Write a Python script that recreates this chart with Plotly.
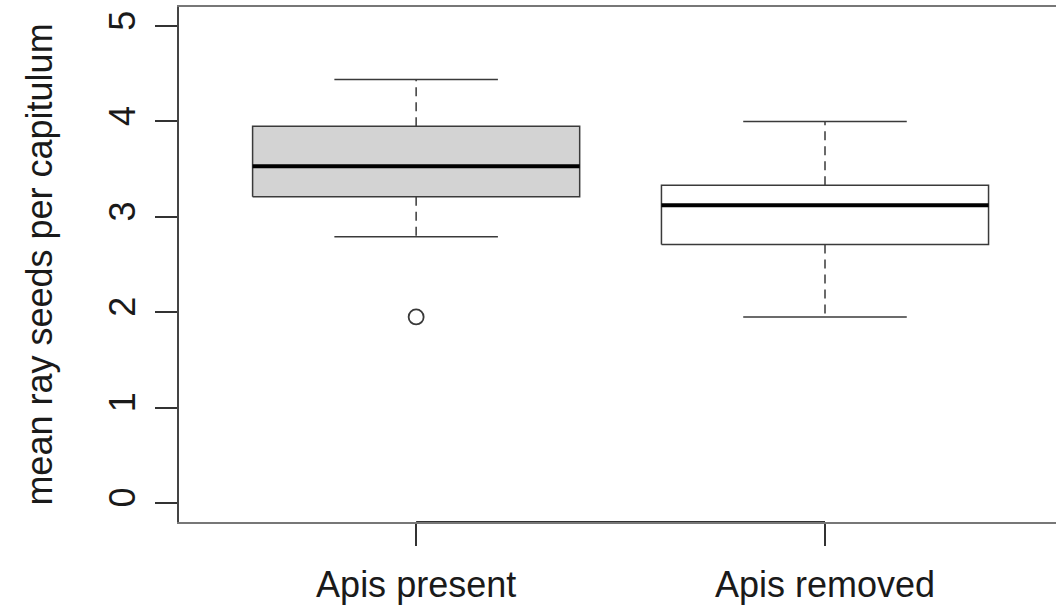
import plotly.graph_objects as go

# ---- data ----
categories = ["Apis present", "Apis removed"]
positions = [1, 2]
upper_whisker = [4.44, 4.00]
q3_values = [3.95, 3.33]
medians = [3.53, 3.12]
q1_values = [3.21, 2.71]
lower_whisker = [2.79, 1.95]
outlier_groups = [1]
outlier_values = [1.95]
box_fills = ["#d3d3d3", "#ffffff"]
y_ticks = [0, 1, 2, 3, 4, 5]
y_title = "mean ray seeds per capitulum"

BOX_HW = 0.4
CAP_HW = 0.2
EDGE = "#3a3a3a"
FONT = "Liberation Sans, Arial, sans-serif"

fig = go.Figure()

for x, up, q3, med, q1, lo, fc in zip(positions, upper_whisker, q3_values,
                                       medians, q1_values, lower_whisker, box_fills):
    # box
    fig.add_trace(go.Scatter(
        x=[x - BOX_HW, x + BOX_HW, x + BOX_HW, x - BOX_HW, x - BOX_HW],
        y=[q1, q1, q3, q3, q1], mode="lines", fill="toself", fillcolor=fc,
        line=dict(color=EDGE, width=1.5), hoverinfo="skip", showlegend=False))
    # whiskers (dashed)
    for a, b in ((q3, up), (q1, lo)):
        fig.add_trace(go.Scatter(
            x=[x, x], y=[a, b], mode="lines",
            line=dict(color=EDGE, width=1.5, dash="9px,6px"),
            hoverinfo="skip", showlegend=False))
    # caps
    for v in (up, lo):
        fig.add_trace(go.Scatter(
            x=[x - CAP_HW, x + CAP_HW], y=[v, v], mode="lines",
            line=dict(color=EDGE, width=1.5), hoverinfo="skip", showlegend=False))
    # median
    fig.add_trace(go.Scatter(
        x=[x - BOX_HW, x + BOX_HW], y=[med, med], mode="lines",
        line=dict(color="#000000", width=4), hoverinfo="skip", showlegend=False))

# outliers
fig.add_trace(go.Scatter(
    x=outlier_groups, y=outlier_values, mode="markers",
    marker=dict(symbol="circle-open", size=15, color=EDGE, line=dict(width=1.8)),
    hoverinfo="skip", showlegend=False))

y_min, y_max = -0.2, 5.2
# axis line between first and last tick (R's axis() line)
fig.add_trace(go.Scatter(
    x=[positions[0], positions[-1]], y=[y_min, y_min], mode="lines",
    line=dict(color="#333333", width=2), hoverinfo="skip", showlegend=False,
    cliponaxis=False))

fig.update_layout(
    width=1056, height=615,
    margin=dict(l=179, r=0, t=7, b=93),
    paper_bgcolor="white", plot_bgcolor="white",
    font=dict(family=FONT, size=36, color="#1a1a1a"),
    xaxis=dict(
        range=[0.42, 2.565], tickvals=positions, ticktext=categories,
        showgrid=False, zeroline=False,
        showline=True, mirror=True, linecolor="#777777", linewidth=1.5,
        ticks="outside", ticklen=22, tickwidth=1.5, tickcolor="#333333",
        ticklabelstandoff=8,
        tickfont=dict(family=FONT, size=36, color="#1a1a1a"),
    ),
    yaxis=dict(
        range=[y_min, y_max], tickvals=y_ticks,
        ticktext=[str(t) for t in y_ticks],
        showgrid=False, zeroline=False,
        showline=True, mirror=False, linecolor="#444444", linewidth=1.5,
        ticks="outside", ticklen=22, tickwidth=1.5, tickcolor="#333333",
        tickangle=-90, ticklabelstandoff=6,
        tickfont=dict(family=FONT, size=36, color="#1a1a1a"),
        title=dict(text=y_title, standoff=38,
                   font=dict(family=FONT, size=36, color="#1a1a1a")),
    ),
)

fig.write_html("out.html",
               config={"displayModeBar": False},
               post_script="document.body.style.margin='0';"
                           "document.body.style.overflow='hidden';")
